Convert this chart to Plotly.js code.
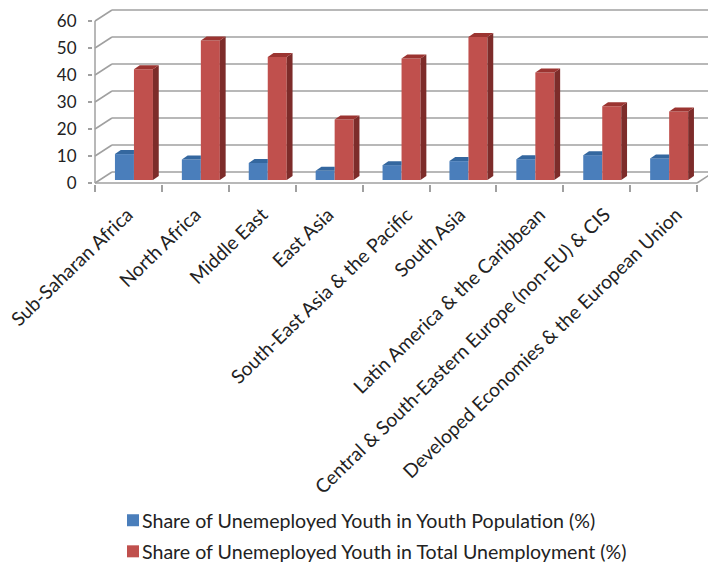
<!DOCTYPE html>
<html>
<head>
<meta charset="utf-8">
<script src="https://cdn.plot.ly/plotly-3.0.1.min.js"></script>
<style>html,body{margin:0;padding:0;background:#fff}</style>
</head>
<body>
<div id="chart" style="width:708px;height:565px"></div>
<script>
// Regions and the two youth-unemployment shares for each
const regions = [
  "Sub-Saharan Africa", "North Africa", "Middle East", "East Asia",
  "South-East Asia & the Pacific", "South Asia", "Latin America & the Caribbean",
  "Central & South-Eastern Europe (non-EU) & CIS",
  "Developed Economies & the European Union"
];
const youthPopulationShare = [9.6, 7.6, 6.3, 3.4, 5.5, 7.0, 7.7, 9.2, 8.0];
const totalUnemploymentShare = [41.0, 51.7, 45.6, 22.4, 45.0, 53.0, 39.8, 27.3, 25.4];
const valueTicks = [0, 10, 20, 30, 40, 50, 60];
const seriesNames = [
  "Share of Unemeployed Youth in Youth Population (%)",
  "Share of Unemeployed Youth in Total Unemployment (%)"
];

// Oblique projection used for the pseudo-3D look, in axis units
const PX_X = 66.9, PX_Y = 2.7;
const wallDx = 17 / PX_X, wallDy = 11 / PX_Y;     // floor front edge to back wall
const barDx = 5.8 / PX_X, barDy = 4 / PX_Y;       // bar front face to back face
const floorLift = 3 / PX_Y;                        // bars stand slightly back on the floor
const barWidth = 19 / PX_X, barShift = 5.5 / PX_X;
const xLeft = -0.5, xRight = 8.5, xEnd = xLeft + (708 - 95) / PX_X;

// Longer rotated labels sit a little to the right of their category centre
const labelNudgePx = [-1, 0, 0, -1, 11, -3, 10, 8, 13];

const gridColor = "#a0a0a0";
const colors = {
  blue: "#4a7ebb", blueTop: "#34679f",
  red: "#c0504d", redTop: "#9b3431", redSide: "#7d2c2a"
};

// Closed polygons separated by nulls, one fill trace per face type
function faces(polys, color) {
  const x = [], y = [];
  polys.forEach(p => {
    p.forEach(c => { x.push(c[0]); y.push(c[1]); });
    x.push(null); y.push(null);
  });
  return {
    type: "scatter", mode: "lines", x, y, fill: "toself", fillcolor: color,
    line: {width: 0, color}, hoverinfo: "skip", showlegend: false
  };
}

const idx = regions.map((_, i) => i);

const blueTops = youthPopulationShare.map((v, i) => {
  const a = i + barShift - barWidth, b = i + barShift, t = v + floorLift;
  return [[a, t], [a + barDx, t + barDy], [b, t + barDy], [b, t]];
});
const redTops = totalUnemploymentShare.map((v, i) => {
  const a = i + barShift, b = a + barWidth, t = v + floorLift;
  return [[a, t], [a + barDx, t + barDy], [b + barDx, t + barDy], [b, t]];
});
const redSides = totalUnemploymentShare.map((v, i) => {
  const b = i + barShift + barWidth, t = v + floorLift;
  return [[b, floorLift], [b + barDx, floorLift + barDy], [b + barDx, t + barDy], [b, t]];
});

const traces = [
  {
    type: "bar", name: seriesNames[0], x: idx, y: youthPopulationShare, base: floorLift,
    width: barWidth, offset: barShift - barWidth, marker: {color: colors.blue, line: {width: 0}},
    legendgroup: "a"
  },
  {
    type: "bar", name: seriesNames[1], x: idx, y: totalUnemploymentShare, base: floorLift,
    width: barWidth, offset: barShift, marker: {color: colors.red, line: {width: 0}},
    legendgroup: "b"
  },
  faces(blueTops, colors.blueTop),
  faces(redSides, colors.redSide),
  faces(redTops, colors.redTop)
];

// Back wall, side wall and floor lines
function segment(x0, y0, x1, y1) {
  return {
    type: "line", layer: "below", xref: "x", yref: "y", x0, y0, x1, y1,
    line: {color: gridColor, width: 1.5}
  };
}
const shapes = [];
valueTicks.forEach(v => {
  shapes.push(segment(xLeft, v, xLeft + wallDx, v + wallDy));
  shapes.push(segment(xLeft + wallDx, v + wallDy, xEnd, v + wallDy));
});
shapes.push(segment(xLeft, 0, xLeft, valueTicks[valueTicks.length - 1]));
shapes.push(segment(xLeft, 0, xRight, 0));
shapes.push(segment(xRight, 0, xRight + wallDx, wallDy));

const boundaries = regions.map((_, i) => i - 0.5).concat([xRight]);

const layout = {
  width: 708, height: 565,
  paper_bgcolor: "#fff", plot_bgcolor: "#fff",
  margin: {l: 93, r: 0, t: 4, b: 381, pad: 0},
  barmode: "overlay",
  font: {family: "Lato, sans-serif", color: "#222"},
  shapes,
  xaxis: {
    type: "linear", range: [xLeft - 2 / PX_X, xEnd],
    tickmode: "array", tickvals: idx.map(i => i + labelNudgePx[i] / PX_X), ticktext: regions,
    tickangle: -44, tickfont: {size: 19.2, color: "#222"},
    ticks: "outside", ticklen: 11, tickcolor: "rgba(0,0,0,0)",
    showgrid: false, zeroline: false, showline: false,
    minor: {tickmode: "array", tickvals: boundaries, ticks: "outside", ticklen: 7, tickcolor: gridColor, tickwidth: 1.5, showgrid: false},
    automargin: false
  },
  yaxis: {
    range: [-1 / PX_Y, 179 / PX_Y],
    tickmode: "array", tickvals: valueTicks,
    tickfont: {size: 17, color: "#222"},
    ticks: "outside", ticklen: 4, tickcolor: gridColor, tickwidth: 1.5,
    ticklabelstandoff: 8,
    showgrid: false, zeroline: false, showline: false, automargin: false
  },
  showlegend: true,
  legend: {
    x: 0.0146, xanchor: "left", xref: "paper",
    y: 64 / 565, yref: "container", yanchor: "top",
    font: {size: 19.6, color: "#222"}, tracegroupgap: 2.6, bgcolor: "rgba(0,0,0,0)",
    orientation: "v"
  }
};

Plotly.newPlot("chart", traces, layout, {displayModeBar: false, responsive: false}).then(() => {
  // Bring the legend swatches close to their labels
  document.querySelectorAll(".legendsymbols").forEach(g => g.setAttribute("transform", "translate(11,0)"));
});
</script>
</body>
</html>
